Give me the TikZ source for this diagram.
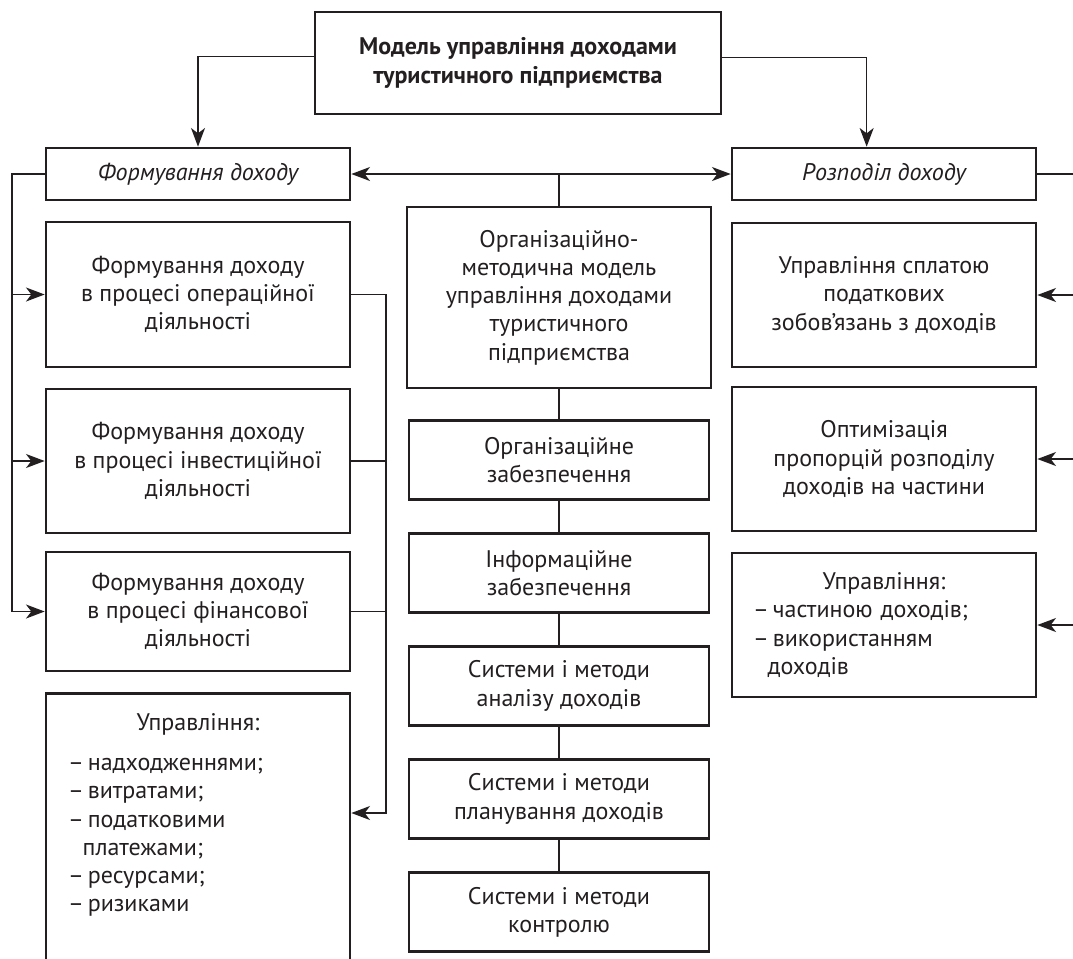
\documentclass[tikz,border=0pt]{standalone}
\usepackage{fontspec}
\setmainfont{PT Sans}
\usetikzlibrary{arrows.meta}
\definecolor{ink}{HTML}{231F20}

\begin{document}
\begin{tikzpicture}[x=.75pt, y=-.75pt,
	box/.style={draw=ink, line width=2pt, text=ink, align=center, minimum width=304*\px, font=\fontsize{18}{21.2}\selectfont},
	link/.style={draw=ink, line width=1pt},
	arr/.style={link, -{Stealth[length=14pt, width=10.5pt, inset=4pt]}}]
	\def\px{.75pt}
	\def\lx{198}
	\def\cx{559}
	\def\rx{884}
	\def\dash{–\hspace{3pt}}
	\useasboundingbox (0,0) rectangle (1073,958);

	\node[box, minimum width=406*\px, minimum height=102*\px, font=\fontsize{18}{21.2}\selectfont\bfseries] (model) at (518,63) {Модель управління доходами\\туристичного підприємства};
	\node[box, minimum height=52*\px, font=\fontsize{18}{21.2}\selectfont\itshape] (form) at (\lx,174) {Формування доходу};
	\node[box, minimum height=52*\px, font=\fontsize{18}{21.2}\selectfont\itshape] (rozp) at (\rx,174) {Розподіл доходу};

	% left column
	\node[box, minimum height=145*\px] (fo1) at (\lx,294.5) {Формування доходу\\в процесі операційної\\діяльності};
	\node[box, minimum height=144*\px] (fo2) at (\lx,461) {Формування доходу\\в процесі інвестиційної\\діяльності};
	\node[box, minimum height=119*\px] (fo3) at (\lx,611.5) {Формування доходу\\в процесі фінансової\\діяльності};
	\node[box, anchor=north, align=left, text width=260*\px, inner xsep=22*\px, inner ysep=20*\px] (fo4) at (\lx,692) {{\centering Управління:\par}\vspace{9pt}\dash надходженнями;\\\dash витратами;\\\dash податковими\\\hspace*{11pt}платежами;\\\dash ресурсами;\\\dash ризиками\rule[-30pt]{0pt}{0pt}};

	% middle column
	\node[box, minimum height=181*\px] (cm) at (\cx,297.5) {Організаційно-\\методична модель\\управління доходами\\туристичного\\підприємства};
	\foreach \t [count=\i, evaluate=\i as \y using 460+(\i-1)*113] in {{Організаційне\\забезпечення}, {Інформаційне\\забезпечення}, {Системи і методи\\аналізу доходів}, {Системи і методи\\планування доходів}, {Системи і методи\\контролю}}{
		\node[box, minimum width=300*\px, minimum height=79*\px] (co\i) at (\cx,\y) {\t};
	}

	% right column
	\node[box, minimum height=144*\px] (ro1) at (\rx,295) {Управління сплатою\\податкових\\зобов’язань з доходів};
	\node[box, minimum height=144*\px] (ro2) at (\rx,459) {Оптимізація\\пропорцій розподілу\\доходів на частини};
	\node[box, align=left, text width=262*\px, inner xsep=21*\px, minimum height=144*\px] (ro3) at (\rx,625) {{\centering Управління:\par}\dash частиною доходів;\\\dash використанням\\\hspace*{11pt}доходів};

	% top links
	\draw[arr] ([yshift=5pt]model.west) -| (form.north);
	\draw[arr] ([yshift=4pt]model.east) -| ([xshift=-13pt]rozp.north);
	\draw[link, {Stealth[length=14pt, width=10.5pt, inset=4pt]}-{Stealth[length=14pt, width=10.5pt, inset=4pt]}] (form.east) -- (rozp.west);
	\draw[link] (cm.north) -- (cm.north |- form.east);

	% left bus
	\coordinate (lbus) at (12,174);
	\draw[arr] (form.west) -- (lbus) |- (fo3.west);
	\foreach \b in {fo1,fo2}{
		\draw[arr] (lbus |- \b.west) -- (\b.west);
	}

	% bus to the management box
	\coordinate (mbus) at (386,813);
	\draw[arr] (fo1.east) -| (mbus) -- (mbus -| fo4.east);
	\foreach \b in {fo2,fo3}{
		\draw[link] (\b.east) -- (\b.east -| mbus);
	}

	% middle chain
	\draw[link] (cm.south) -- (co1.north);
	\foreach \i [count=\j from 2] in {1,...,4}{
		\draw[link] (co\i.south) -- (co\j.north);
	}

	% right bus
	\coordinate (rbus) at (1082,174);
	\draw[link] (rozp.east) -- (rbus) -- (rbus |- ro3.east);
	\foreach \b in {ro1,ro2,ro3}{
		\draw[arr] (rbus |- \b.east) -- (\b.east);
	}
\end{tikzpicture}
\end{document}
